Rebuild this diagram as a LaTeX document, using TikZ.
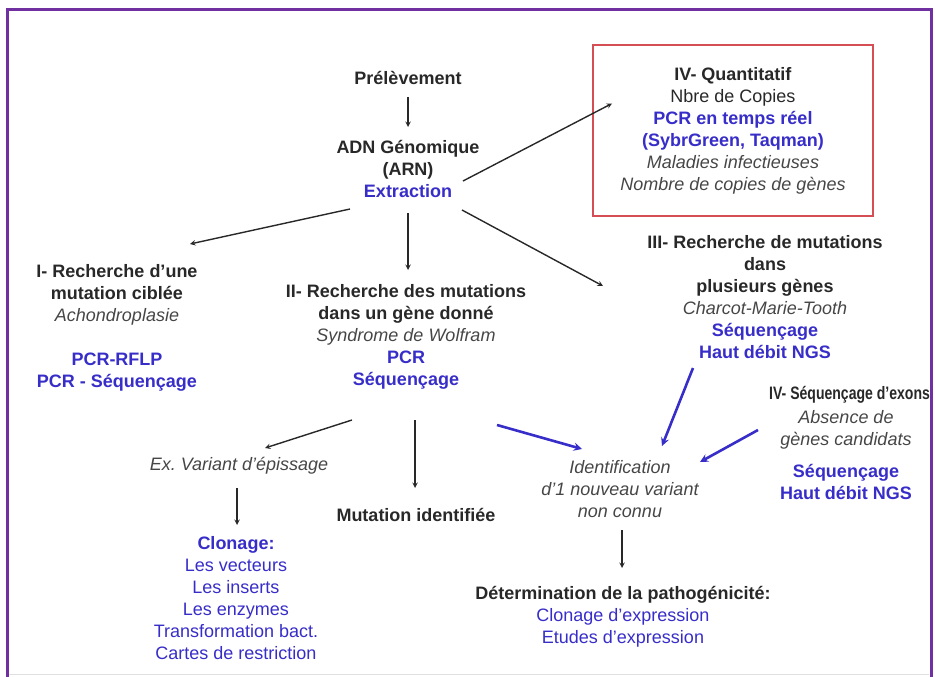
\documentclass[tikz,border=0pt]{standalone}
\usepackage{fontspec}
\setmainfont{Liberation Sans}
\usepackage{tikz}

\definecolor{pcrblue}{RGB}{55,45,200}
\definecolor{framepurple}{RGB}{112,48,160}
\definecolor{boxred}{RGB}{212,78,84}
\definecolor{txtgray}{RGB}{40,40,40}
\definecolor{itgray}{RGB}{70,70,70}

\newcommand{\blu}[1]{\textcolor{pcrblue}{#1}}
\newcommand{\itl}[1]{\textcolor{itgray}{\itshape #1}}

\tikzset{
  lbl/.style={align=center, inner sep=2pt, text=txtgray,
    font=\fontsize{18}{22}\selectfont},
  hd/.style={lbl, font=\fontsize{18}{22}\selectfont\bfseries},
  arr/.style={->, line width=1.4pt, draw=txtgray},
  barr/.style={->, line width=2.6pt, draw=pcrblue},
}

\begin{document}
\begin{tikzpicture}[>=stealth, x=1pt, y=-1pt]
  \useasboundingbox (0,0) rectangle (935,677);

  % outer frame
  \draw[line width=3pt, framepurple] (7,677) -- (7,10) -- (931,10) -- (931,677);
  \draw[line width=1pt, black!12] (9,674) -- (929,674);

  % top: sample and extraction
  \node[hd] (prel) at (408,78) {Prélèvement};
  \node[hd] (adn) at (408,169) {ADN Génomique\\(ARN)\\\blu{Extraction}};

  % quantitative branch
  \node[lbl, draw=boxred, line width=1.6pt, minimum width=280pt, minimum height=171pt]
    (quant) at (733,130.5) {\textbf{IV- Quantitatif}\\Nbre de Copies\\
    \blu{\bfseries PCR en temps réel}\\\blu{\bfseries (SybrGreen, Taqman)}\\
    \itl{Maladies infectieuses}\\\itl{Nombre de copies de gènes}};

  % search branches
  \node[hd] (mut1) at (117,327.5) {I- Recherche d'une\\mutation ciblée\\
    \itl{\mdseries Achondroplasie}\\[22pt]\blu{PCR-RFLP}\\\blu{PCR - Séquençage}};
  \node[hd] (mut2) at (406,337) {II- Recherche des mutations\\dans un gène donné\\
    \itl{\mdseries Syndrome de Wolfram}\\\blu{PCR}\\\blu{Séquençage}};
  \node[hd] (mut3) at (765,297.5) {III- Recherche de mutations\\dans\\plusieurs gènes\\
    \itl{\mdseries Charcot-Marie-Tooth}\\\blu{Séquençage}\\\blu{Haut débit NGS}};

  % exome branch, title squeezed to stay inside the frame
  \node[hd, anchor=west] (exoT) at (767,395)
    {\scalebox{0.78}[1]{IV- Séquençage d'exons}};
  \node[lbl] (exome) at (846,455.5) {\itl{Absence de}\\\itl{gènes candidats}\\[10pt]
    \blu{\bfseries Séquençage}\\\blu{\bfseries Haut débit NGS}};

  % results
  \node[lbl] (epis) at (239,466) {\itl{Ex.\ Variant d'épissage}};
  \node[hd] (mutid) at (416,515) {Mutation identifiée};
  \node[lbl] (ident) at (620,489) {\itl{Identification}\\\itl{d'1 nouveau variant}\\\itl{non connu}};
  \node[lbl] (clon) at (236,598.5) {\blu{\bfseries Clonage:}\\\blu{Les vecteurs}\\\blu{Les inserts}\\
    \blu{Les enzymes}\\\blu{Transformation bact.}\\\blu{Cartes de restriction}};
  \node[lbl] (patho) at (623,617) {\textbf{Détermination de la pathogénicité:}\\
    \blu{Clonage d'expression}\\\blu{Etudes d'expression}};

  % black arrows
  \draw[arr] ([shift={(0,19)}]prel.center) -- ([shift={(0,-42)}]adn.center);
  \draw[arr] ([shift={(55,12)}]adn.center) -- ([shift={(-121,-27)}]quant.center);
  \draw[arr] ([shift={(-58,40)}]adn.center) -- ([shift={(73,-83.5)}]mut1.center);
  \draw[arr] ([shift={(0,44)}]adn.center) -- ([shift={(2,-67)}]mut2.center);
  \draw[arr] ([shift={(54,41)}]adn.center) -- ([shift={(-162,-11.5)}]mut3.center);
  \draw[arr] ([shift={(-54,83)}]mut2.center) -- ([shift={(26,-18)}]epis.center);
  \draw[arr] ([shift={(9,83)}]mut2.center) -- ([shift={(-1,-27)}]mutid.center);
  \draw[arr] ([shift={(-2,22)}]epis.center) -- ([shift={(1,-73.5)}]clon.center);
  \draw[arr] ([shift={(2,41)}]ident.center) -- ([shift={(-1,-49)}]patho.center);

  % blue arrows into the new variant
  \draw[barr] ([shift={(91,88)}]mut2.center) -- ([shift={(-38,-40)}]ident.center);
  \draw[barr] ([shift={(-72,70.5)}]mut3.center) -- ([shift={(42,-43)}]ident.center);
  \draw[barr] ([shift={(-88,-25.5)}]exome.center) -- ([shift={(80,-27)}]ident.center);
\end{tikzpicture}
\end{document}
